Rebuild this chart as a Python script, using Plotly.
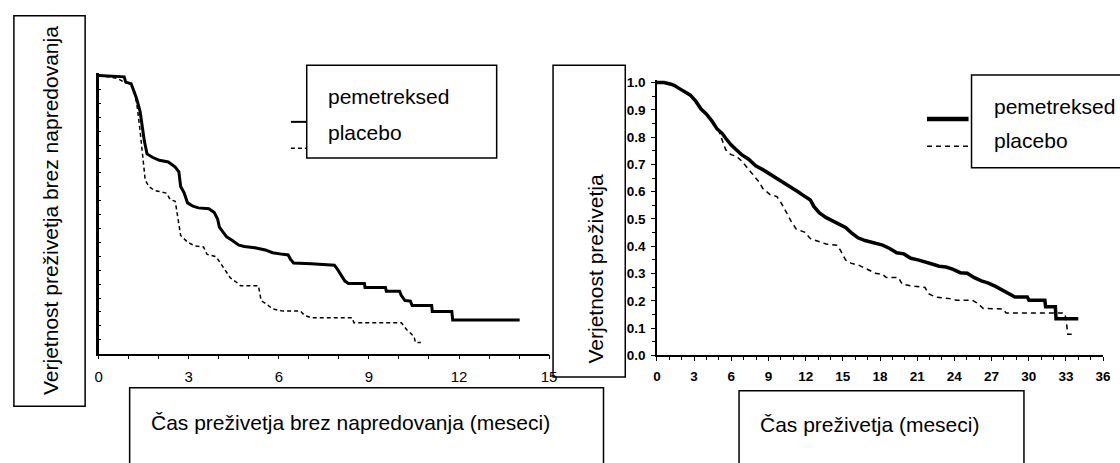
import plotly.graph_objects as go

# ---------------- data ----------------
# Left panel: progression-free survival
pfs_pem_t = [0, 0.85, 0.9, 1.08, 1.26, 1.38, 1.46, 1.52, 1.61, 1.79, 2.02, 2.32, 2.55, 2.67, 2.73, 2.85,
             2.96, 3.14, 3.32, 3.67, 3.85, 3.96, 4.02, 4.14, 4.26, 4.44, 4.67, 4.85, 5.2, 5.55, 5.79, 6.14,
             6.31, 6.38, 6.49, 7.08, 7.44, 7.85, 7.96, 8.08, 8.2, 8.32, 8.85, 8.87, 9.55, 9.58, 10.02, 10.08,
             10.2, 10.38, 10.44, 11.09, 11.11, 11.76, 11.79, 14.02]
pfs_pem_s = [1.0, 0.995, 0.976, 0.97, 0.918, 0.87, 0.81, 0.765, 0.718, 0.706, 0.695, 0.689, 0.671, 0.654,
             0.601, 0.577, 0.542, 0.53, 0.524, 0.521, 0.507, 0.484, 0.455, 0.437, 0.42, 0.408, 0.39, 0.385,
             0.381, 0.373, 0.363, 0.357, 0.355, 0.341, 0.326, 0.323, 0.32, 0.318, 0.302, 0.279, 0.261, 0.252,
             0.252, 0.238, 0.238, 0.224, 0.224, 0.209, 0.191, 0.189, 0.173, 0.173, 0.152, 0.152, 0.121, 0.121]
pfs_plc_t = [0, 0.61, 0.85, 1.08, 1.2, 1.29, 1.38, 1.46, 1.55, 1.67, 1.85, 2.02, 2.26, 2.38, 2.55, 2.61,
             2.73, 2.96, 3.2, 3.49, 3.61, 3.91, 4.02, 4.2, 4.38, 4.61, 4.73, 5.32, 5.41, 5.61, 5.79, 6.14,
             6.73, 6.85, 7.08, 8.44, 8.5, 10.08, 10.26, 10.5, 10.55, 10.73]
pfs_plc_s = [1.0, 0.99, 0.976, 0.97, 0.94, 0.882, 0.80, 0.706, 0.624, 0.601, 0.587, 0.583, 0.577, 0.554,
             0.548, 0.507, 0.425, 0.401, 0.387, 0.384, 0.357, 0.349, 0.331, 0.302, 0.273, 0.255, 0.244,
             0.244, 0.191, 0.177, 0.161, 0.153, 0.153, 0.138, 0.129, 0.129, 0.111, 0.111, 0.086, 0.062,
             0.04, 0.04]

# Right panel: overall survival
os_pem_t = [0, 0.57, 1.14, 1.42, 1.85, 2.28, 2.7, 3.13, 3.56, 3.98, 4.41, 4.84, 5.26, 5.55, 5.98, 6.4,
            6.83, 7.4, 7.97, 8.54, 9.1, 9.68, 10.24, 10.81, 11.38, 11.95, 12.38, 12.66, 13.09, 13.66, 14.23,
            14.8, 15.22, 15.65, 16.22, 16.79, 17.64, 18.21, 18.78, 19.35, 19.92, 20.49, 21.06, 21.63, 22.2,
            22.77, 23.33, 23.9, 24.47, 25.04, 25.61, 26.18, 26.75, 27.32, 27.89, 28.32, 28.89, 29.88, 30.02,
            31.3, 31.36, 32.15, 32.2, 34.0]
os_pem_s = [1.0, 1.0, 0.994, 0.989, 0.977, 0.966, 0.954, 0.932, 0.903, 0.885, 0.861, 0.831, 0.814, 0.796,
            0.772, 0.754, 0.736, 0.719, 0.695, 0.681, 0.665, 0.65, 0.635, 0.618, 0.6, 0.582, 0.57, 0.546,
            0.523, 0.505, 0.493, 0.481, 0.469, 0.451, 0.431, 0.421, 0.412, 0.404, 0.392, 0.376, 0.372, 0.356,
            0.35, 0.344, 0.335, 0.327, 0.324, 0.315, 0.303, 0.301, 0.285, 0.273, 0.265, 0.253, 0.238, 0.226,
            0.214, 0.214, 0.202, 0.202, 0.178, 0.178, 0.134, 0.134]
os_plc_t = [0, 0.57, 1.14, 1.42, 1.85, 2.28, 2.7, 3.13, 3.56, 3.98, 4.41, 4.98, 5.26, 5.55, 5.98, 6.4,
            6.83, 7.26, 7.83, 8.25, 8.54, 9.1, 9.68, 9.96, 10.39, 10.81, 11.24, 11.95, 12.38, 13.09, 13.66,
            14.51, 14.8, 15.22, 15.65, 16.36, 17.07, 17.64, 18.21, 18.5, 19.5, 19.78, 20.49, 21.63, 21.91,
            22.48, 23.62, 24.19, 25.47, 25.9, 26.33, 27.89, 28.18, 32.87, 33.0, 33.15, 33.58]
os_plc_s = [1.0, 1.0, 0.994, 0.989, 0.977, 0.966, 0.954, 0.932, 0.903, 0.885, 0.861, 0.825, 0.79, 0.754,
            0.736, 0.73, 0.713, 0.689, 0.659, 0.635, 0.612, 0.59, 0.582, 0.564, 0.529, 0.493, 0.463, 0.451,
            0.428, 0.416, 0.408, 0.404, 0.386, 0.35, 0.338, 0.329, 0.315, 0.301, 0.297, 0.285, 0.285, 0.261,
            0.255, 0.249, 0.226, 0.214, 0.208, 0.202, 0.202, 0.19, 0.172, 0.17, 0.155, 0.155, 0.137, 0.077,
            0.077]

series_names = ["pemetreksed", "placebo"]
left_xticks = [0, 3, 6, 9, 12, 15]
right_xticks = [0, 3, 6, 9, 12, 15, 18, 21, 24, 27, 30, 33, 36]
right_yticks = [0.0, 0.1, 0.2, 0.3, 0.4, 0.5, 0.6, 0.7, 0.8, 0.9, 1.0]
left_ytitle = "Verjetnost preživetja brez napredovanja"
left_xtitle = "Čas preživetja brez napredovanja (meseci)"
right_ytitle = "Verjetnost preživetja"
right_xtitle = "Čas preživetja (meseci)"

# ---------------- layout helpers ----------------
W, H = 1120, 463
def px(x):
    return x / W
def py(y):
    return 1 - y / H

FONT = "Liberation Sans, Arial, sans-serif"

fig = go.Figure()

# Left panel traces
fig.add_trace(go.Scatter(x=pfs_plc_t, y=pfs_plc_s, xaxis="x", yaxis="y", mode="lines",
                         name=series_names[1], line=dict(color="black", width=1.5, dash="4px,3px")))
fig.add_trace(go.Scatter(x=pfs_pem_t, y=pfs_pem_s, xaxis="x", yaxis="y", mode="lines",
                         name=series_names[0], line=dict(color="black", width=3)))
# Right panel traces
fig.add_trace(go.Scatter(x=os_plc_t, y=os_plc_s, xaxis="x2", yaxis="y2", mode="lines",
                         name=series_names[1], line=dict(color="black", width=1.5, dash="5px,4px")))
fig.add_trace(go.Scatter(x=os_pem_t, y=os_pem_s, xaxis="x2", yaxis="y2", mode="lines",
                         name=series_names[0], line=dict(color="black", width=3.5)))

axis_common = dict(showgrid=False, zeroline=False, showline=True, linecolor="black",
                   ticks="outside", tickcolor="black")

fig.update_layout(
    width=W, height=H, margin=dict(l=0, r=0, t=0, b=0),
    paper_bgcolor="white", plot_bgcolor="white", showlegend=False,
    xaxis=dict(**axis_common, domain=[px(95.7), px(551)], range=[0, 15], anchor="y",
               tickvals=left_xticks, ticktext=[str(v) for v in left_xticks], ticklen=4,
               linewidth=1.5, tickwidth=1, ticklabelstandoff=5,
               minor=dict(dtick=1, tick0=0, ticks="outside", ticklen=4, tickcolor="black", showgrid=False),
               tickfont=dict(family=FONT, size=15, color="black")),
    yaxis=dict(showgrid=False, zeroline=False, showline=True, linecolor="black", linewidth=2.5,
               domain=[py(359), py(70.5)], range=[0, 1.01], anchor="x",
               tickvals=[i * 0.05 for i in range(21)], ticks="inside", ticklen=3, tickcolor="black",
               showticklabels=False),
    xaxis2=dict(**axis_common, domain=[px(660), px(1111)], range=[0, 36], anchor="y2",
                tickvals=right_xticks, ticktext=[str(v) for v in right_xticks], ticklen=4,
                linewidth=1.5, tickwidth=1, ticklabelstandoff=4,
                minor=dict(dtick=1, tick0=0, ticks="outside", ticklen=3, tickcolor="black", showgrid=False),
                tickfont=dict(family=FONT, size=13.5, color="black", weight="bold")),
    yaxis2=dict(**axis_common, domain=[py(360.7), py(77.9)], range=[0, 1.01], anchor="x2",
                tickvals=right_yticks, ticktext=["%.1f" % v for v in right_yticks], ticklen=4,
                linewidth=1.5, tickwidth=1, ticklabelstandoff=3,
                minor=dict(dtick=0.05, tick0=0, ticks="outside", ticklen=3, tickcolor="black", showgrid=False),
                tickfont=dict(family=FONT, size=13.5, color="black", weight="bold")),
)

shapes = []
annotations = []
def box(x0, y0, x1, y1):
    shapes.append(dict(type="rect", xref="paper", yref="paper", x0=px(x0), x1=px(x1), y0=py(y1), y1=py(y0),
                       line=dict(color="black", width=1.5), fillcolor="rgba(0,0,0,0)", layer="above"))
def seg(x0, y, x1, width, dash="solid"):
    shapes.append(dict(type="line", xref="paper", yref="paper", x0=px(x0), x1=px(x1), y0=py(y), y1=py(y),
                       line=dict(color="black", width=width, dash=dash)))
def text(x, y, s, size=21, angle=0, xanchor="left"):
    annotations.append(dict(xref="paper", yref="paper", x=px(x), y=py(y), text=s, showarrow=False,
                            textangle=angle, xanchor=xanchor, yanchor="middle",
                            font=dict(family=FONT, size=size, color="black")))

# Left y title box
box(10, 12, 82, 413)
text(47, 212, left_ytitle, angle=-90, xanchor="center")
# Left legend
box(306, 63, 498, 158)
text(325, 95, series_names[0])
text(325, 132, series_names[1])
seg(290, 121, 306, 2)
seg(290, 148, 306, 1.5, "4px,3px")
# Left x title box
box(127, 394, 606, 480)
text(147, 430, left_xtitle)

# Right y title box
box(555, 63, 628, 383)
text(598, 272, right_ytitle, angle=-90, xanchor="center")
# Right legend
box(978, 73, 1130, 168)
text(999, 105, series_names[0])
text(999, 140, series_names[1])
seg(933, 118, 975, 4.5)
seg(933, 146, 975, 1.5, "5px,4px")
# Right x title box
box(743, 397, 1031, 480)
text(762, 432, right_xtitle)

fig.update_layout(shapes=shapes, annotations=annotations)
fig.write_html("out.html", config={"displayModeBar": False},
               post_script="document.body.style.margin='0';document.body.style.padding='0';"
                           "document.documentElement.style.overflow='hidden';")
